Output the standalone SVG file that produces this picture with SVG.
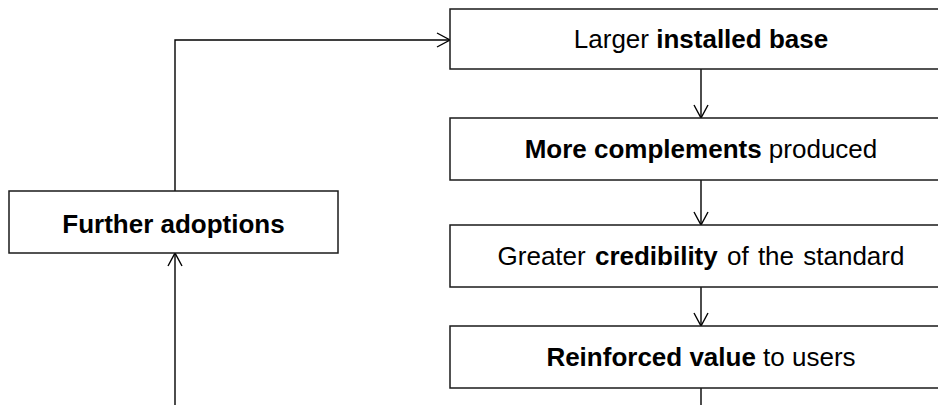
<svg xmlns="http://www.w3.org/2000/svg" width="938" height="405" viewBox="0 0 938 405">
  <style>
    .box { fill: #ffffff; stroke: #1a1a1a; stroke-width: 1.5; }
    .lbl { font-family: "Liberation Sans", Arial, sans-serif; font-size: 26px; fill: #000; text-anchor: middle; }
    .b { font-weight: bold; }
    .wire { fill: none; stroke: #000; stroke-width: 1.4; }
  </style>
  <defs>
    <marker id="open" markerUnits="userSpaceOnUse" markerWidth="16" markerHeight="16" viewBox="-14 -8 15 16" refX="0" refY="0" orient="auto">
      <path d="M-13,-7 L0,0 L-13,7" fill="none" stroke="#000" stroke-width="1.4"/>
    </marker>
  </defs>
  <rect width="938" height="405" fill="#ffffff"/>

  <g id="connectors">
    <path class="wire" d="M175,191 V40 H450" marker-end="url(#open)"/>
    <path class="wire" d="M701,69 V118" marker-end="url(#open)"/>
    <path class="wire" d="M701,180 V225" marker-end="url(#open)"/>
    <path class="wire" d="M701,287 V326" marker-end="url(#open)"/>
    <path class="wire" d="M701,388 V405"/>
    <path class="wire" d="M175,405 V253" marker-end="url(#open)"/>
  </g>

  <g id="further-adoptions">
    <rect class="box" x="9" y="191" width="329" height="62"/>
    <text class="lbl b" x="173.5" y="233">Further adoptions</text>
  </g>

  <g id="installed-base">
    <rect class="box" x="450" y="9" width="502" height="60"/>
    <text class="lbl" x="701" y="48">Larger <tspan class="b">installed base</tspan></text>
  </g>

  <g id="complements">
    <rect class="box" x="450" y="118" width="502" height="62"/>
    <text class="lbl" x="701" y="158"><tspan class="b">More complements</tspan> produced</text>
  </g>

  <g id="credibility">
    <rect class="box" x="450" y="225" width="502" height="62"/>
    <text class="lbl" x="701" y="265" word-spacing="2">Greater <tspan class="b">credibility</tspan> of the standard</text>
  </g>

  <g id="value">
    <rect class="box" x="450" y="326" width="502" height="62"/>
    <text class="lbl" x="701" y="366"><tspan class="b">Reinforced value</tspan> to users</text>
  </g>
</svg>
